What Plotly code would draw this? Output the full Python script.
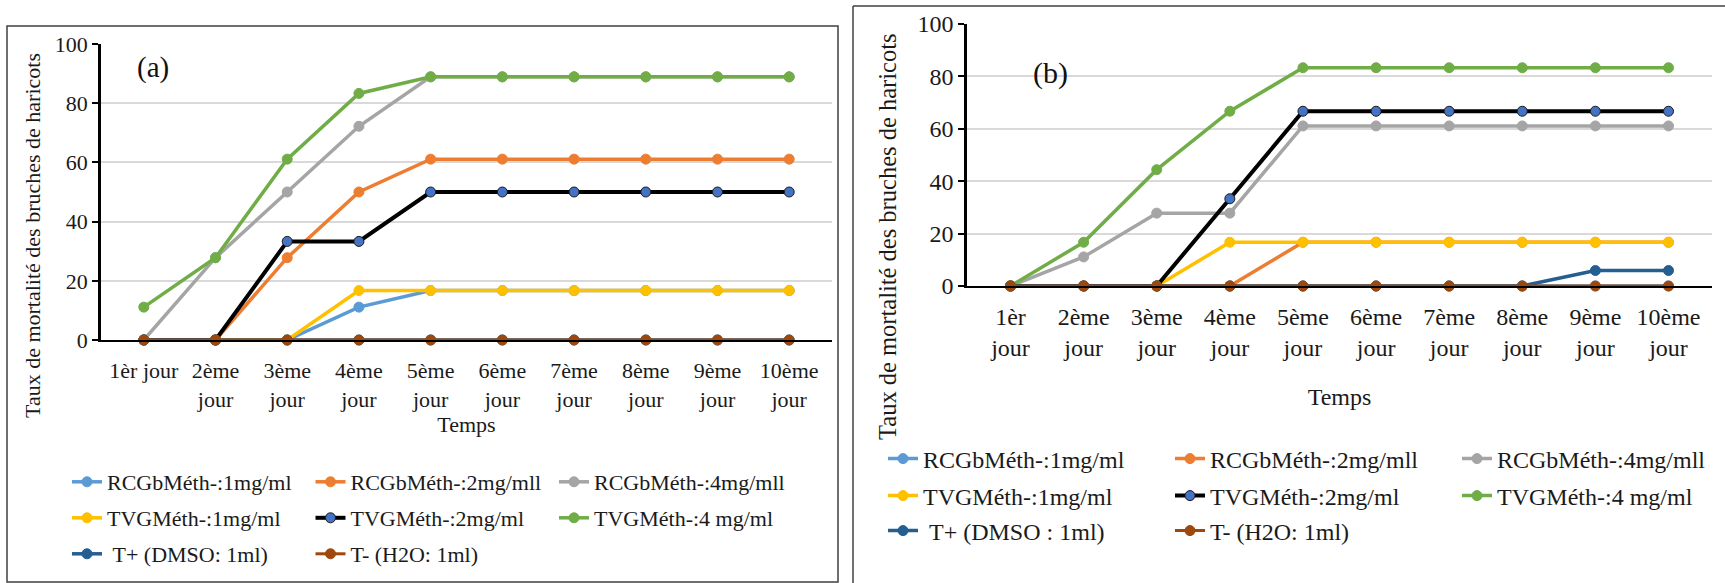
import plotly.graph_objects as go

W, H = 1725, 583
FONT = "Liberation Serif, Times New Roman, serif"

# ---------------- data ----------------
days_a = ["1èr jour", "2ème<br>jour", "3ème<br>jour", "4ème<br>jour", "5ème<br>jour",
          "6ème<br>jour", "7ème<br>jour", "8ème<br>jour", "9ème<br>jour", "10ème<br>jour"]
days_b = ["1èr<br>jour", "2ème<br>jour", "3ème<br>jour", "4ème<br>jour", "5ème<br>jour",
          "6ème<br>jour", "7ème<br>jour", "8ème<br>jour", "9ème<br>jour", "10ème<br>jour"]

names_a = ["RCGbMéth-:1mg/ml", "RCGbMéth-:2mg/mll", "RCGbMéth-:4mg/mll",
           "TVGMéth-:1mg/ml", "TVGMéth-:2mg/ml", "TVGMéth-:4 mg/ml",
           "\u00a0T+ (DMSO: 1ml)", "T- (H2O: 1ml)"]
names_b = ["RCGbMéth-:1mg/ml", "RCGbMéth-:2mg/mll", "RCGbMéth-:4mg/mll",
           "TVGMéth-:1mg/ml", "TVGMéth-:2mg/ml", "TVGMéth-:4 mg/ml",
           "\u00a0T+ (DMSO : 1ml)", "T- (H2O: 1ml)"]

# panel (a)
a_rcgb_1 = [0, 0, 0, 11.1, 16.7, 16.7, 16.7, 16.7, 16.7, 16.7]
a_rcgb_2 = [0, 0, 27.8, 50, 61.1, 61.1, 61.1, 61.1, 61.1, 61.1]
a_rcgb_4 = [0, 27.8, 50, 72.2, 88.9, 88.9, 88.9, 88.9, 88.9, 88.9]
a_tvg_1 = [0, 0, 0, 16.7, 16.7, 16.7, 16.7, 16.7, 16.7, 16.7]
a_tvg_2 = [0, 0, 33.3, 33.3, 50, 50, 50, 50, 50, 50]
a_tvg_4 = [11.1, 27.8, 61.1, 83.3, 88.9, 88.9, 88.9, 88.9, 88.9, 88.9]
a_tpos = [0, 0, 0, 0, 0, 0, 0, 0, 0, 0]
a_tneg = [0, 0, 0, 0, 0, 0, 0, 0, 0, 0]

# panel (b)
b_rcgb_1 = [0, 0, 0, 0, 0, 0, 0, 0, 0, 0]
b_rcgb_2 = [0, 0, 0, 0, 16.7, 16.7, 16.7, 16.7, 16.7, 16.7]
b_rcgb_4 = [0, 11.1, 27.8, 27.8, 61.1, 61.1, 61.1, 61.1, 61.1, 61.1]
b_tvg_1 = [0, 0, 0, 16.7, 16.7, 16.7, 16.7, 16.7, 16.7, 16.7]
b_tvg_2 = [0, 0, 0, 33.3, 66.7, 66.7, 66.7, 66.7, 66.7, 66.7]
b_tvg_4 = [0, 16.7, 44.4, 66.7, 83.3, 83.3, 83.3, 83.3, 83.3, 83.3]
b_tpos = [0, 0, 0, 0, 0, 0, 0, 0, 5.9, 5.9]
b_tneg = [0, 0, 0, 0, 0, 0, 0, 0, 0, 0]

series_a = [a_rcgb_1, a_rcgb_2, a_rcgb_4, a_tvg_1, a_tvg_2, a_tvg_4, a_tpos, a_tneg]
series_b = [b_rcgb_1, b_rcgb_2, b_rcgb_4, b_tvg_1, b_tvg_2, b_tvg_4, b_tpos, b_tneg]

y_title = "Taux de mortalité des bruches de haricots"
x_title = "Temps"

line_colors = ["#5B9BD5", "#ED7D31", "#A5A5A5", "#FFC000", "#000000", "#70AD47", "#255E91", "#9E480E"]
marker_colors = ["#5B9BD5", "#ED7D31", "#A5A5A5", "#FFC000", "#4472C4", "#70AD47", "#255E91", "#9E480E"]
line_widths = [3.5, 3.5, 3.5, 3.5, 4, 3.5, 3.5, 3]


def px(x):
    return x / W


def py(y):
    return 1 - y / H


fig = go.Figure()

panels = [
    dict(x="x", y="y", days=days_a, names=names_a, series=series_a,
         legends=["legend", "legend2", "legend3"], lastw=None),
    dict(x="x2", y="y2", days=days_b, names=names_b, series=series_b,
         legends=["legend4", "legend5", "legend6"], lastw=214),
]

for p in panels:
    for i, vals in enumerate(p["series"]):
        kw = {}
        if i % 3 == 2 and p["lastw"]:
            kw["legendwidth"] = p["lastw"]
        fig.add_trace(go.Scatter(
            x=p["days"], y=vals, name=p["names"][i], mode="lines+markers",
            xaxis=p["x"], yaxis=p["y"], legend=p["legends"][i // 3],
            cliponaxis=False,
            line=dict(color=line_colors[i], width=line_widths[i]),
            marker=dict(size=10, color=marker_colors[i],
                        line=dict(color="#1a1a1a" if i == 4 else marker_colors[i], width=1)),
            **kw,
        ))


def xaxis(domain, anchor, size, standoff, lab_standoff, days):
    return dict(domain=domain, anchor=anchor, type="category", categoryorder="array",
                categoryarray=days, showline=True, linecolor="black", linewidth=2,
                showgrid=False, ticks="", ticklabelstandoff=lab_standoff, automargin=False,
                tickfont=dict(family=FONT, size=size, color="#1a1a1a"),
                title=dict(text=x_title, font=dict(family=FONT, size=size, color="#1a1a1a"),
                           standoff=standoff),
                fixedrange=True)


def yaxis(domain, anchor, size):
    return dict(domain=domain, anchor=anchor, range=[0, 100], dtick=20,
                showgrid=True, gridcolor="#D9D9D9", gridwidth=1.5, zeroline=False,
                showline=True, linecolor="black", linewidth=2.5, automargin=False,
                ticks="outside", ticklen=6, tickcolor="black", tickwidth=1.5,
                tickfont=dict(family=FONT, size=size, color="#1a1a1a"),
                fixedrange=True)


legend_common = dict(orientation="h", xanchor="left", yanchor="middle",
                     bgcolor="rgba(0,0,0,0)", entrywidthmode="pixels")
fa = dict(family=FONT, size=22, color="#1a1a1a")
fb = dict(family=FONT, size=24, color="#1a1a1a")

fig.update_layout(
    width=W, height=H, margin=dict(l=0, r=0, t=0, b=0, autoexpand=False),
    paper_bgcolor="white", plot_bgcolor="white",
    xaxis=xaxis([px(101), px(832)], "y", 22, 6, 10, days_a),
    yaxis=yaxis([py(340), py(44)], "x", 22),
    xaxis2=xaxis([px(967), px(1712)], "y2", 24, 28, 8, days_b),
    yaxis2=yaxis([py(286), py(24)], "x2", 24),
    legend=dict(legend_common, x=px(67), y=py(482), entrywidth=198.5, font=fa),
    legend2=dict(legend_common, x=px(67), y=py(518), entrywidth=198.5, font=fa),
    legend3=dict(legend_common, x=px(67), y=py(554), entrywidth=198.5, font=fa),
    legend4=dict(legend_common, x=px(883), y=py(459), entrywidth=242, font=fb),
    legend5=dict(legend_common, x=px(883), y=py(496), entrywidth=242, font=fb),
    legend6=dict(legend_common, x=px(883), y=py(531), entrywidth=242, font=fb),
    annotations=[
        dict(text=y_title, textangle=-90, x=px(33), y=py(236), xref="paper", yref="paper",
             xanchor="center", yanchor="middle", showarrow=False,
             font=dict(family=FONT, size=22, color="#1a1a1a")),
        dict(text=y_title, textangle=-90, x=px(887), y=py(237), xref="paper", yref="paper",
             xanchor="center", yanchor="middle", showarrow=False,
             font=dict(family=FONT, size=24.5, color="#1a1a1a")),
        dict(text="(a)", x=px(153), y=py(67), xref="paper", yref="paper",
             xanchor="center", yanchor="middle",
             showarrow=False, font=dict(family=FONT, size=29, color="#111")),
        dict(text="(b)", x=px(1050), y=py(73), xref="paper", yref="paper",
             xanchor="center", yanchor="middle",
             showarrow=False, font=dict(family=FONT, size=30, color="#111")),
    ],
    shapes=[
        dict(type="rect", xref="paper", yref="paper", x0=px(7), x1=px(838),
             y0=py(582), y1=py(26), line=dict(color="#404040", width=1.5)),
        dict(type="line", xref="paper", yref="paper", x0=px(853), x1=px(853),
             y0=py(583), y1=py(6), line=dict(color="#404040", width=1.5)),
        dict(type="line", xref="paper", yref="paper", x0=px(853), x1=px(1725),
             y0=py(6), y1=py(6), line=dict(color="#404040", width=1.5)),
    ],
    showlegend=True,
)

fig.write_html("out.html")
